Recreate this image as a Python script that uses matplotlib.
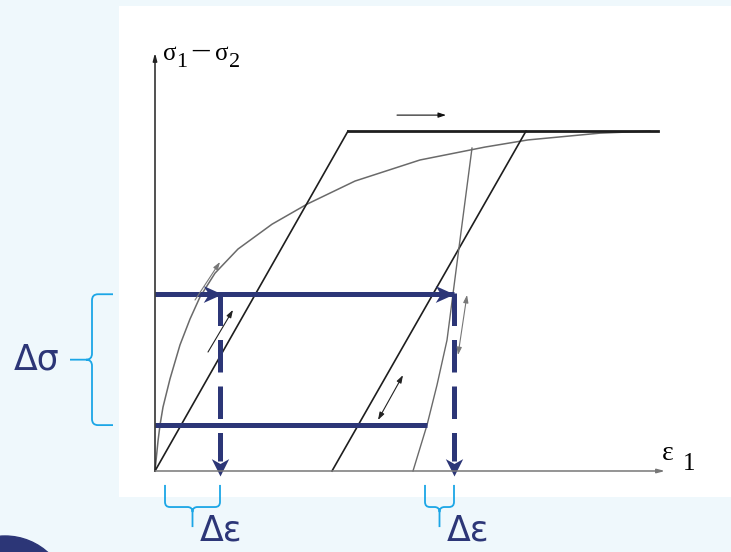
import matplotlib
matplotlib.use('Agg')  # no display
import matplotlib.pyplot as plt
from matplotlib.path import Path
from matplotlib.patches import PathPatch, Circle

# ---- data (arbitrary units: strain 0..100, stress 0..100 at yield plateau) ----
curve_eps = [0, 0.6, 1, 1.6, 3, 5, 7, 9, 12, 16.6, 23.4, 30.4, 40, 53, 66, 74.6, 89, 99]
curve_sig = [0, 8.8, 13.5, 18.8, 27.1, 37.1, 44.7, 51.2, 58.2, 65.3, 72.6, 78.5, 85.3,
             91.5, 95.3, 97.4, 99.4, 100]

elastic_eps = [0, 38.6, 100.6]        # elastic-perfectly plastic model
elastic_sig = [0, 100, 100]
reload_eps = [35.4, 74.2]             # parallel elastic line
reload_sig = [0, 100]
unload_eps = [51.6, 54.4, 56.4, 58.4, 61, 63.4]
unload_sig = [0, 13.5, 25.3, 38.5, 68, 95]

sig_upper, sig_lower = 52, 13.5
eps_a, eps_b = 13, 59.8
eps_lower_end = 54.4
brace_eps_a = (2, 13)
brace_eps_b = (54, 59.8)

navy = '#2c3677'
cyan = '#1ba6e6'
serif = 'Liberation Serif'

fig = plt.figure(figsize=(7.31, 5.52), dpi=100, facecolor='#eff8fc')

# decorative circle bottom-left
bg = fig.add_axes([0, 0, 1, 1], zorder=-1)
bg.set_xlim(0, 731)
bg.set_ylim(552, 0)
bg.axis('off')
bg.add_patch(Circle((5, 600), 64, color=navy))

ax = fig.add_axes([119 / 731, 55 / 552, 612 / 731, 491 / 552])
ax.set_facecolor('white')
ax.set_xlim(-7.2, 115.2)
ax.set_ylim(-7.65, 136.8)
for s in ax.spines.values():
    s.set_visible(False)
ax.set_xticks([])
ax.set_yticks([])

# axes with arrows
ax.annotate('', xy=(0, 123), xytext=(0, 0),
            arrowprops=dict(arrowstyle='-|>,head_length=0.45,head_width=0.12',
                            color='#222222', lw=1.1, shrinkA=0, shrinkB=0))
ax.annotate('', xy=(102, 0), xytext=(0, 0),
            arrowprops=dict(arrowstyle='-|>,head_length=0.45,head_width=0.12',
                            color='#777777', lw=1.1, shrinkA=0, shrinkB=0))


def label(base, pieces):
    # pieces: (text, dx px, dy px, size)
    for txt, dx, dy, size in pieces:
        ax.annotate(txt, xy=base, xytext=(dx, dy), textcoords='offset pixels',
                    fontsize=size, family=serif, ha='left', va='baseline',
                    annotation_clip=False)


label((1.6, 121), [('σ', 0, 0, 18), ('1', 13, -7, 16), ('–', 29, 1, 24),
                   ('σ', 52, 0, 18), ('2', 66, -7, 16)])
label((101.4, 3.2), [('ε', 0, 0, 20), ('1', 21, -10, 18)])

# curves
ax.plot(curve_eps, curve_sig, color='#6a6a6a', lw=1.1)
ax.plot(elastic_eps[:2], elastic_sig[:2], color='#1e1e1e', lw=1.2)
ax.plot(elastic_eps[1:], elastic_sig[1:], color='#1e1e1e', lw=2.0)
ax.plot(reload_eps, reload_sig, color='#1e1e1e', lw=1.2)
ax.plot(unload_eps, unload_sig, color='#6a6a6a', lw=1.0)


# small direction arrows
def small_arrow(p0, p1, style='-|>', color='#444444'):
    ax.annotate('', xy=p1, xytext=p0,
                arrowprops=dict(arrowstyle=style + ',head_length=0.45,head_width=0.15',
                                color=color, lw=0.8, shrinkA=0, shrinkB=0))


small_arrow((48.4, 104.7), (58.2, 104.7), color='#111111')
small_arrow((8, 50.3), (13, 61.5), color='#777777')
small_arrow((10.6, 35), (15.6, 47.4), color='#222222')
small_arrow((44.6, 15), (49.6, 28.2), style='<|-|>', color='#222222')
small_arrow((60.6, 34.1), (62.4, 51.8), style='<|-|>', color='#777777')

# navy stress / strain amplitude lines
ax.plot([0, eps_b], [sig_upper, sig_upper], color=navy, lw=3.6, solid_capstyle='butt')
ax.plot([0, eps_lower_end], [sig_lower, sig_lower], color=navy, lw=3.6,
        solid_capstyle='butt')
for e in (eps_a, eps_b):
    ax.plot([e, e], [sig_upper + 0.5, 3], color=navy, lw=3.6,
            ls=(0, (6.5, 2.8)), dash_capstyle='butt')

head_right = [(0, 0), (-1, 0.45), (-0.72, 0), (-1, -0.45), (0, 0)]
head_down = [(0, 0), (-0.5, 1), (0, 0.72), (0.5, 1), (0, 0)]
ax.plot([eps_a + 0.4, eps_b], [sig_upper, sig_upper], ls='none', marker=head_right,
        ms=27, color=navy, mew=0)
ax.plot([eps_a, eps_b], [-1.5, -1.5], ls='none', marker=head_down,
        ms=25, color=navy, mew=0)

# braces
M, L, C = Path.MOVETO, Path.LINETO, Path.CURVE3


def brace_left(x_end, x_spine, x_tip, y0, y1, rx=1.2, ry=1.8):
    ym = (y0 + y1) / 2
    v = [(x_end, y0), (x_spine + rx, y0), (x_spine, y0), (x_spine, y0 - ry),
         (x_spine, ym + ry), (x_spine, ym), (x_spine - rx, ym), (x_tip, ym),
         (x_end, y1), (x_spine + rx, y1), (x_spine, y1), (x_spine, y1 + ry),
         (x_spine, ym - ry), (x_spine, ym), (x_spine - rx, ym)]
    c = [M, L, C, C, L, C, C, L, M, L, C, C, L, C, C]
    ax.add_patch(PathPatch(Path(v, c), fill=False, ec=cyan, lw=1.3, clip_on=False))


def brace_bottom(x0, x1, y_end, y_sp, y_tip, rx=1.0, ry=1.5):
    xm = (x0 + x1) / 2
    v = [(x0, y_end), (x0, y_sp + ry), (x0, y_sp), (x0 + rx, y_sp),
         (xm - rx, y_sp), (xm, y_sp), (xm, y_sp - ry), (xm, y_tip),
         (x1, y_end), (x1, y_sp + ry), (x1, y_sp), (x1 - rx, y_sp),
         (xm + rx, y_sp), (xm, y_sp), (xm, y_sp - ry)]
    c = [M, L, C, C, L, C, C, L, M, L, C, C, L, C, C]
    ax.add_patch(PathPatch(Path(v, c), fill=False, ec=cyan, lw=1.3, clip_on=False))


brace_left(-8.4, -12.6, -17, sig_upper, sig_lower)
brace_bottom(*brace_eps_a, -4.1, -10.6, -16.5)
brace_bottom(*brace_eps_b, -4.1, -10.6, -16.5)

ax.text(-23.6, (sig_upper + sig_lower) / 2, 'Δσ', color=navy, fontsize=25,
        ha='center', va='center', clip_on=False)
ax.text(9, -17.6, 'Δε', color=navy, fontsize=25, ha='left', va='center', clip_on=False)
ax.text(58.4, -17.6, 'Δε', color=navy, fontsize=25, ha='left', va='center',
        clip_on=False)

fig.savefig('out.png', dpi=100, facecolor=fig.get_facecolor())
